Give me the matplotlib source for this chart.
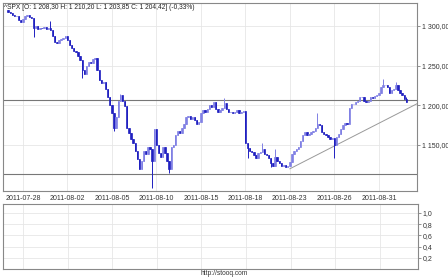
import numpy as np
import matplotlib.pyplot as plt
from matplotlib.ticker import FuncFormatter

plt.rcParams['font.family'] = ['Liberation Sans', 'DejaVu Sans']

# hourly closes, 7 bars per session, 2011-07-27 .. 2011-09-01
closes = [
    1318, 1316, 1314, 1313, 1312, 1307, 1305,
    1309, 1312, 1314, 1311, 1310, 1298, 1300,
    1296, 1298, 1297, 1299, 1296, 1298, 1295,
    1287, 1280, 1278, 1282, 1284, 1285, 1287,
    1282, 1276, 1272, 1268, 1267, 1262, 1257,
    1245, 1240, 1250, 1255, 1253, 1258, 1260,
    1245, 1232, 1228, 1229, 1220, 1210, 1200,
    1190, 1172, 1185, 1205, 1213, 1206, 1199,
    1172, 1165, 1158, 1152, 1143, 1132, 1120,
    1130, 1143, 1139, 1147, 1145, 1130, 1170,
    1150, 1140, 1135, 1147, 1140, 1130, 1120,
    1147, 1150, 1162, 1168, 1165, 1172, 1177,
    1185, 1187, 1183, 1185, 1181, 1177, 1179,
    1190, 1194, 1191, 1195, 1200, 1198, 1204,
    1196, 1191, 1194, 1197, 1203, 1196, 1192,
    1191, 1190, 1192, 1194, 1190, 1191, 1193,
    1152, 1146, 1143, 1141, 1137, 1134, 1140,
    1141, 1145, 1139, 1137, 1133, 1127, 1124,
    1135, 1130, 1127, 1124, 1125, 1122, 1123,
    1128, 1139, 1143, 1145, 1147, 1155, 1162,
    1166, 1162, 1164, 1166, 1168, 1172, 1177,
    1175, 1166, 1164, 1162, 1160, 1158, 1159,
    1150, 1160, 1164, 1170, 1175, 1178, 1177,
    1197, 1202, 1202, 1204, 1206, 1210, 1210,
    1206, 1204, 1206, 1210, 1209, 1212, 1213,
    1215, 1223, 1225, 1225, 1223, 1216, 1219,
    1220, 1226, 1219, 1216, 1213, 1208.30, 1204.42,
]
first_open = 1320.0
last_open = 1208.30
spike_high = {20: 1306, 53: 1214, 102: 1209, 120: 1153, 126: 1145,
              146: 1190, 177: 1233, 183: 1229, 188: 1210.20}
spike_low = {12: 1286, 35: 1235, 50: 1168, 68: 1096, 76: 1115,
             113: 1133, 124: 1122, 154: 1134, 188: 1203.85}
pct_change = -0.33

bars_per_day = 7
tick_days = [1, 4, 7, 10, 13, 16, 19, 22, 25]
tick_labels = ['2011-07-28', '2011-08-02', '2011-08-05', '2011-08-10', '2011-08-15',
               '2011-08-18', '2011-08-23', '2011-08-26', '2011-08-31']

level_lines = [1206.5, 1113.0]
trend_start = (133, 1120)
trend_end = (193, 1202)

closes = np.array(closes, dtype=float)
opens = np.concatenate([[first_open], closes[:-1]])
opens[-1] = last_open
highs = np.maximum(opens, closes)
lows = np.minimum(opens, closes)
for k, v in spike_high.items():
    highs[k] = v
for k, v in spike_low.items():
    lows[k] = v
idx = np.arange(len(closes))


def pl_num(v, pos=None, nd=2):
    s = f'{v:,.{nd}f}'
    return s.replace(',', ' ').replace('.', ',')


fig = plt.figure(figsize=(4.48, 2.8), dpi=100)
ax = fig.add_axes([3 / 448, 89 / 280, 414 / 448, 188 / 280])
ax2 = fig.add_axes([3 / 448, 11 / 280, 415 / 448, 65 / 280])

up = closes >= opens
dark = '#2020c0'
light = '#8080e4'
cols = np.where(up, light, dark)
ax.vlines(idx, lows, highs, colors=cols, linewidth=0.7, zorder=3)
ax.bar(idx, closes - opens, bottom=opens, width=0.65, color=cols,
       edgecolor=cols, linewidth=0.5, zorder=3)

for lv in level_lines:
    ax.axhline(lv, color='#777777', linewidth=0.8, zorder=2)
ax.plot([trend_start[0], trend_end[0]], [trend_start[1], trend_end[1]],
        color='#999999', linewidth=0.7, zorder=2)

tick_pos = [d * bars_per_day for d in tick_days]
for a in (ax, ax2):
    a.set_xlim(-2.4, 193)
    a.set_xticks(tick_pos)
    a.grid(True, color='#e6e6e6', linewidth=0.6)
    a.set_axisbelow(True)
    a.yaxis.tick_right()
    a.tick_params(axis='y', length=2.5, width=0.5, colors='#666666',
                  labelsize=5, labelcolor='#333333', pad=1)
    a.tick_params(axis='x', length=0)
    for sp in a.spines.values():
        sp.set_color('#888888')
        sp.set_linewidth(0.8)

ax.set_ylim(1092, 1329)
ax.set_yticks([1150, 1200, 1250, 1300])
ax.yaxis.set_major_formatter(FuncFormatter(pl_num))
ax.set_xticklabels(tick_labels, fontsize=5, color='#333333')
ax.tick_params(axis='x', pad=3)

ax2.set_ylim(0, 1.16)
ax2.set_yticks([0.2, 0.4, 0.6, 0.8, 1.0])
ax2.yaxis.set_major_formatter(FuncFormatter(lambda v, p: pl_num(v, p, 1)))
ax2.set_xticklabels([])

title = (f'^SPX [O: {pl_num(opens[-1])} H: {pl_num(highs[-1])} '
         f'L: {pl_num(lows[-1])} C: {pl_num(closes[-1])}] ({pl_num(pct_change)}%)')
ax.text(0.002, 0.995, title, transform=ax.transAxes, ha='left', va='top',
        fontsize=4.8, color='#222222')
fig.text(224 / 448, 3 / 280, 'http://stooq.com', ha='center', va='bottom',
         fontsize=4.8, color='#333333')

fig.savefig('out.png', dpi=100)
